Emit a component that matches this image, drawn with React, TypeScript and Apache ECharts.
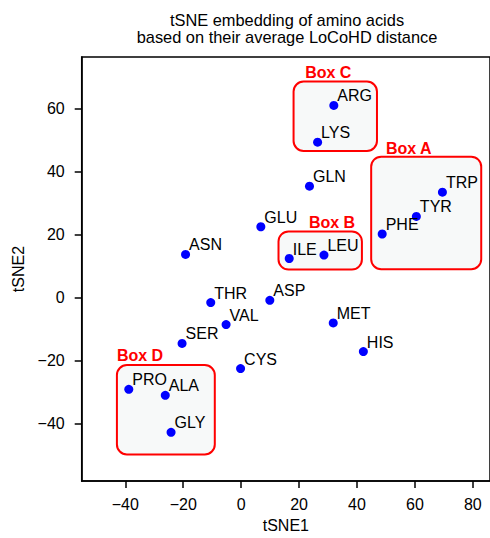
import React, { useEffect, useRef } from "react";
import * as echarts from "echarts";

const residueNames = ["ARG", "LYS", "GLN", "TRP", "TYR", "PHE", "ILE", "LEU", "GLU", "ASN", "THR", "ASP", "VAL", "SER", "MET", "HIS", "CYS", "PRO", "ALA", "GLY"];
const tsne1 = [32.0, 26.4, 23.6, 69.5, 60.5, 48.7, 16.6, 28.6, 6.8, -19.2, -10.5, 9.9, -5.2, -20.4, 31.8, 42.2, -0.2, -38.8, -26.2, -24.2];
const tsne2 = [61.1, 49.4, 35.4, 33.5, 25.8, 20.2, 12.4, 13.5, 22.5, 13.7, -1.6, -0.9, -8.6, -14.6, -8.1, -17.2, -22.6, -29.2, -31.1, -42.9];

const boxNames = ["Box A", "Box B", "Box C", "Box D"];
const boxX0 = [44.9, 12.9, 18.1, -42.9];
const boxX1 = [82.9, 41.7, 46.9, -9.1];
const boxY0 = [9.0, 8.9, 46.6, -49.9];
const boxY1 = [44.8, 21.0, 68.7, -21.5];
const boxLabelX = [50.0, 23.4, 22.1, -42.9];
const boxLabelY = [47.5, 23.9, 71.6, -18.4];

const xTicks = [-40, -20, 0, 20, 40, 60, 80];
const yTicks = [-40, -20, 0, 20, 40, 60];

const FONT = "Liberation Sans, Arial, sans-serif";

export default function App() {
  const ref = useRef<HTMLDivElement>(null);
  useEffect(() => {
    if (!ref.current) return;
    const chart = echarts.init(ref.current, null, { renderer: "svg" });
    const pts = residueNames.map((n, i) => ({ value: [tsne1[i], tsne2[i]], name: n }));
    const boxes = boxNames.map((n, i) => [boxX0[i], boxY0[i], boxX1[i], boxY1[i], boxLabelX[i], boxLabelY[i], n]);
    const fmt = (v: number) => String(v).replace("-", "\u2212");
    chart.setOption({
      animation: false,
      textStyle: { fontFamily: FONT },
      grid: {
        left: 81.7, top: 57, right: -3, bottom: 53.7,
        show: true, borderColor: "#000", borderWidth: 1.5, backgroundColor: "transparent",
      },
      graphic: [
        {
          type: "text", x: 287, y: 11,
          style: {
            text: "tSNE embedding of amino acids\nbased on their average LoCoHD distance",
            fontSize: 16.4, fontFamily: FONT, fill: "#000", textAlign: "center", textVerticalAlign: "top", lineHeight: 17.5,
          },
        },
      ],
      xAxis: {
        type: "value", min: -55.06, max: 85.93,
        name: "tSNE1", nameLocation: "middle", nameGap: 33,
        nameTextStyle: { fontSize: 16, color: "#000", fontFamily: FONT },
        axisLine: { show: true, onZero: false, lineStyle: { color: "#000", width: 1.5 } },
        axisTick: { show: true, length: 7, lineStyle: { color: "#000", width: 1.5 }, customValues: xTicks },
        axisLabel: { fontSize: 16, color: "#000", margin: 15, customValues: xTicks, formatter: fmt },
        splitLine: { show: false },
      },
      yAxis: {
        type: "value", min: -58.4, max: 76.5,
        name: "tSNE2", nameLocation: "middle", nameGap: 55,
        nameTextStyle: { fontSize: 16, color: "#000", fontFamily: FONT },
        axisLine: { show: true, onZero: false, lineStyle: { color: "#000", width: 1.5 } },
        axisTick: { show: true, length: 7, lineStyle: { color: "#000", width: 1.5 }, customValues: yTicks },
        axisLabel: { fontSize: 16, color: "#000", margin: 17, customValues: yTicks, formatter: fmt },
        splitLine: { show: false },
      },
      series: [
        {
          type: "custom",
          z: 1,
          data: boxes,
          renderItem: (params: any, api: any) => {
            const p0 = api.coord([api.value(0), api.value(3)]);
            const p1 = api.coord([api.value(2), api.value(1)]);
            const lp = api.coord([api.value(4), api.value(5)]);
            return {
              type: "group",
              children: [
                {
                  type: "rect",
                  shape: { x: p0[0], y: p0[1], width: p1[0] - p0[0], height: p1[1] - p0[1], r: 10 },
                  style: { fill: "#f7f9f9", stroke: "#ff0000", lineWidth: 2 },
                },
                {
                  type: "text",
                  x: lp[0], y: lp[1],
                  style: {
                    text: boxNames[params.dataIndex], fill: "#ff0000",
                    fontSize: 16, fontWeight: "bold", fontFamily: FONT, textAlign: "left", textVerticalAlign: "middle",
                  },
                },
              ],
            };
          },
        },
        {
          type: "scatter",
          z: 3,
          symbolSize: 9,
          itemStyle: { color: "#0000ff", opacity: 1 },
          data: pts,
          label: {
            show: true,
            formatter: "{b}",
            position: [8, -5],
            align: "left",
            verticalAlign: "middle",
            fontSize: 16,
            color: "#000",
            fontFamily: FONT,
          },
        },
      ],
    });
    return () => chart.dispose();
  }, []);
  return <div ref={ref} style={{ position: "absolute", left: 0, top: 0, width: 490, height: 538 }} />;
}
